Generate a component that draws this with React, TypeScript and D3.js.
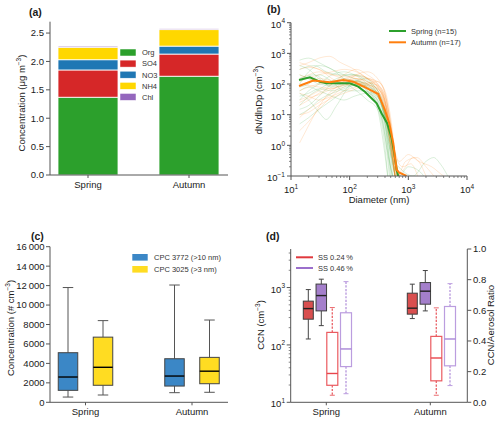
import React from 'react';
import * as d3 from 'd3';

const FONT = '"Liberation Sans", Arial, Helvetica, sans-serif';
const AX = '#555555';
const TXT = '#1a1a1a';
const FS = 9.5;
const LFS = 7.5;

// ---------- Panel (a) data ----------
const seasons = ['Spring', 'Autumn'];
const species = ['Org', 'SO4', 'NO3', 'NH4', 'Chl'];
const speciesColors = ['#2ca02c', '#d62728', '#1f77b4', '#ffd700', '#9467bd'];
const springComp = [1.37, 0.48, 0.18, 0.22, 0.02];
const autumnComp = [1.74, 0.39, 0.14, 0.29, 0.02];
const concTicksA = [0, 0.5, 1.0, 1.5, 2.0, 2.5];

// ---------- Panel (b) data ----------
const springMean: [number, number][] = [[13.7, 135], [21, 166], [31, 119], [40.5, 106], [101, 106], [140, 82], [182, 56], [289, 23.5], [351, 11], [437, 5.2], [519, 1.7], [575, 0.55], [632, 0.16], [680, 0.09]];
const autumnMean: [number, number][] = [[13.7, 86], [24, 129], [46, 114], [78, 135], [115, 119], [195, 73], [307, 47], [399, 14], [473, 5.3], [553, 1.17], [631, 0.16], [692, 0.13], [933, 0.1]];

const springSamples: [number, number][][] = [
  [[14, 600], [20, 700], [30, 500], [50, 300], [80, 200], [120, 150], [200, 80], [300, 30], [400, 5], [500, 0.5], [600, 0.08]],
  [[14, 300], [25, 400], [40, 250], [70, 200], [120, 200], [200, 120], [300, 60], [400, 15], [500, 1], [600, 0.08]],
  [[14, 50], [20, 30], [30, 12], [40, 7], [60, 20], [100, 80], [150, 100], [250, 40], [350, 8], [450, 0.5], [550, 0.08]],
  [[14, 150], [25, 200], [40, 120], [70, 100], [120, 130], [200, 90], [300, 40], [400, 6], [480, 0.3], [560, 0.08]],
  [[14, 20], [20, 40], [35, 80], [60, 150], [100, 200], [160, 180], [250, 100], [350, 30], [450, 2], [550, 0.08]],
  [[14, 80], [20, 100], [30, 200], [50, 120], [80, 60], [150, 60], [250, 50], [350, 20], [450, 3], [550, 0.2], [650, 0.08]],
  [[14, 10], [20, 15], [30, 30], [50, 50], [80, 70], [130, 100], [200, 70], [300, 25], [400, 3], [500, 0.08]],
  [[14, 400], [20, 300], [30, 150], [50, 80], [80, 90], [130, 120], [200, 100], [300, 50], [450, 5], [600, 0.3], [800, 0.15], [1200, 0.1], [2000, 0.3], [2700, 0.4], [3500, 0.25], [5000, 0.08]],
  [[14, 30], [20, 60], [30, 100], [50, 200], [80, 250], [120, 200], [200, 100], [300, 40], [400, 10], [500, 1], [600, 0.08]],
  [[14, 5], [20, 8], [30, 15], [50, 30], [80, 60], [120, 120], [180, 150], [250, 80], [350, 20], [450, 1], [520, 0.08]],
  [[14, 200], [20, 150], [30, 100], [50, 90], [80, 100], [130, 60], [200, 30], [300, 15], [380, 2], [450, 0.08]],
  [[14, 60], [20, 80], [30, 60], [50, 40], [80, 30], [120, 40], [200, 50], [300, 30], [400, 8], [500, 0.6], [700, 0.08]],
  [[14, 100], [20, 250], [30, 400], [50, 300], [80, 150], [130, 100], [200, 60], [300, 20], [400, 2], [480, 0.08]],
  [[14, 15], [20, 20], [30, 40], [50, 100], [80, 150], [120, 120], [200, 80], [300, 50], [400, 10], [550, 0.5], [700, 0.1], [1000, 0.2], [1500, 0.15], [2000, 0.08]],
  [[14, 40], [20, 50], [30, 70], [50, 60], [80, 80], [130, 100], [200, 60], [300, 15], [380, 1], [450, 0.08]],
];

const autumnSamples: [number, number][][] = [
  [[14, 1.2], [18, 3], [25, 10], [40, 40], [70, 100], [120, 180], [200, 150], [300, 90], [400, 30], [500, 3], [600, 0.3], [700, 0.08]],
  [[14, 400], [20, 500], [30, 700], [45, 800], [70, 500], [120, 300], [200, 150], [300, 80], [400, 20], [500, 2], [650, 0.08]],
  [[14, 60], [20, 80], [30, 100], [50, 120], [80, 150], [130, 200], [200, 160], [300, 100], [400, 40], [500, 5], [600, 0.4], [700, 0.1]],
  [[14, 20], [20, 30], [30, 50], [50, 80], [80, 120], [130, 150], [200, 120], [300, 80], [400, 30], [500, 3], [650, 0.1], [900, 0.2], [1200, 0.4], [1500, 0.3], [2000, 0.1]],
  [[14, 150], [20, 200], [30, 250], [50, 200], [80, 180], [130, 150], [200, 100], [300, 60], [400, 20], [500, 1], [600, 0.08]],
  [[14, 8], [20, 15], [30, 25], [50, 50], [80, 100], [130, 200], [200, 250], [300, 150], [400, 50], [500, 5], [600, 0.3], [800, 0.08]],
  [[14, 100], [20, 90], [30, 80], [50, 70], [80, 100], [130, 120], [200, 100], [300, 70], [400, 25], [500, 2], [600, 0.1]],
  [[14, 300], [20, 350], [30, 300], [50, 150], [80, 100], [130, 90], [200, 70], [300, 40], [400, 10], [500, 0.8], [600, 0.08]],
  [[14, 30], [20, 40], [30, 60], [50, 100], [80, 200], [130, 300], [200, 200], [300, 100], [400, 30], [500, 3], [700, 0.3], [1000, 0.5], [1500, 0.3], [2500, 0.2], [4000, 0.1], [5000, 0.08]],
  [[14, 50], [20, 40], [30, 30], [50, 40], [80, 60], [130, 80], [200, 90], [300, 70], [400, 25], [500, 2], [600, 0.08]],
  [[14, 200], [20, 150], [30, 120], [50, 100], [80, 120], [130, 150], [200, 120], [300, 60], [400, 15], [500, 1], [600, 0.08]],
  [[14, 10], [20, 12], [30, 20], [50, 35], [80, 50], [130, 70], [200, 100], [300, 120], [400, 50], [500, 5], [600, 0.5], [800, 0.2], [1100, 0.25], [1500, 0.08]],
  [[14, 500], [20, 400], [30, 300], [50, 200], [80, 150], [130, 120], [200, 90], [300, 50], [400, 15], [500, 1.5], [600, 0.08]],
  [[14, 3], [20, 6], [30, 15], [50, 40], [80, 80], [130, 120], [200, 150], [300, 120], [400, 60], [500, 8], [600, 0.5], [700, 0.08]],
  [[14, 80], [20, 120], [30, 150], [50, 130], [80, 110], [130, 100], [200, 110], [300, 90], [400, 40], [500, 4], [650, 0.1], [900, 0.3], [1400, 0.4], [2000, 0.2], [3000, 0.08]],
  [[14, 25], [20, 35], [30, 45], [50, 70], [80, 90], [130, 110], [200, 80], [300, 40], [400, 12], [500, 1], [600, 0.08]],
  [[14, 120], [20, 160], [30, 200], [50, 250], [80, 300], [130, 250], [200, 150], [300, 80], [400, 25], [500, 2], [600, 0.1]],
];
const decadeExpB = [1, 2, 3, 4];
const decadeExpBy = [-1, 0, 1, 2, 3, 4];

// ---------- Panel (c) data ----------  [whislo, q1, med, q3, whishi]
const cpc3772 = [[540, 1230, 2600, 5100, 11800], [990, 1670, 2700, 4480, 12060]];
const cpc3025 = [[750, 1750, 3600, 6700, 8400], [1030, 1910, 3200, 4620, 8460]];
const concTicksC = [0, 2000, 4000, 6000, 8000, 10000, 12000, 14000, 16000];

// ---------- Panel (d) data ----------
const ccn024 = [[127, 281, 430, 580, 922], [288, 344, 437, 798, 1146]];
const ccn046 = [[217, 392, 725, 1150, 1400], [392, 513, 865, 1222, 1980]];
const ratio024 = [[0.046, 0.111, 0.188, 0.456, 0.618], [0.046, 0.14, 0.289, 0.43, 0.616]];
const ratio046 = [[0.056, 0.233, 0.348, 0.584, 0.787], [0.109, 0.238, 0.413, 0.625, 0.774]];
const ratioTicks = [0, 0.2, 0.4, 0.6, 0.8, 1.0];
const ccnExp = [1, 2, 3];

function Pow({ x, y, exp, anchor }: { x: number; y: number; exp: number; anchor: string }) {
  return (
    <text x={x} y={y} textAnchor={anchor} fontSize={FS} fill={TXT} fontFamily={FONT}>
      10<tspan dy={-4.5} fontSize={6.5}>{exp < 0 ? '\u2212' + Math.abs(exp) : exp}</tspan>
    </text>
  );
}

function minorTicks(lo: number, hi: number) {
  const out: number[] = [];
  for (let e = lo; e < hi; e++) {
    for (let m = 2; m <= 9; m++) out.push(m * Math.pow(10, e));
  }
  return out;
}

function BoxPlot({ cx, w, vals, y, fill, stroke, median, whisker, dashed, capW, sw = 1 }: any) {
  const [lo, q1, med, q3, hi] = vals;
  return (
    <g>
      <line x1={cx} x2={cx} y1={y(q3)} y2={y(hi)} stroke={whisker} strokeWidth={dashed ? 1.4 : 1} strokeDasharray={dashed ? '2.2,1.4' : undefined} />
      <line x1={cx} x2={cx} y1={y(q1)} y2={y(lo)} stroke={whisker} strokeWidth={dashed ? 1.4 : 1} strokeDasharray={dashed ? '2.2,1.4' : undefined} />
      <line x1={cx - capW / 2} x2={cx + capW / 2} y1={y(hi)} y2={y(hi)} stroke={whisker} strokeWidth={1} />
      <line x1={cx - capW / 2} x2={cx + capW / 2} y1={y(lo)} y2={y(lo)} stroke={whisker} strokeWidth={1} />
      <rect x={cx - w / 2} y={y(q3)} width={w} height={y(q1) - y(q3)} fill={fill} stroke={stroke} strokeWidth={sw} />
      <line x1={cx - w / 2} x2={cx + w / 2} y1={y(med)} y2={y(med)} stroke={median} strokeWidth={1.4} />
    </g>
  );
}

export default function App() {
  // ----- Panel a -----
  const xA = d3.scaleBand().domain(seasons).range([37.5, 239.5]);
  const yA = d3.scaleLinear().domain([0, 2.7]).range([175, 21.7]);
  const rowsA = seasons.map((s, i) => {
    const comp = i === 0 ? springComp : autumnComp;
    const r: any = { season: s };
    species.forEach((k, j) => (r[k] = comp[j]));
    return r;
  });
  const stackA = d3.stack().keys(species)(rowsA);
  const barW = 60;

  // ----- Panel b -----
  const xB = d3.scaleLog().domain([10, 1e4]).range([291, 467]);
  const yB = d3.scaleLog().domain([0.1, 1e4]).range([176, 22.7]);
  const thinLine = d3.line<[number, number]>().x((d) => xB(d[0])).y((d) => yB(d[1])).curve(d3.curveMonotoneX);
  const meanLine = d3.line<[number, number]>().x((d) => xB(d[0])).y((d) => yB(d[1]));

  // ----- Panel c -----
  const xC = d3.scalePoint().domain(seasons).range([85.5, 192]);
  const yC = d3.scaleLinear().domain([0, 16000]).range([402.3, 246.7]);
  const fmtC = (v: number) => (v >= 10000 ? d3.format(',')(v).replace(',', '\u2009') : String(v));

  // ----- Panel d -----
  const xD = d3.scalePoint().domain(seasons).range([326.3, 430.3]);
  const yD = d3.scaleLog().domain([10, 4700]).range([402.3, 249]);
  const yR = d3.scaleLinear().domain([0, 1]).range([402.3, 249]);

  return (
    <svg width={500} height={422} viewBox="0 0 500 422" style={{ display: 'block', position: 'absolute', left: 0, top: 0, background: '#fff' }} fontFamily={FONT}>
      <rect width={500} height={422} fill="#fff" />

      {/* ================= Panel (a) ================= */}
      <text x={29} y={16} fontSize={10.5} fontWeight="bold" fill={TXT}>(a)</text>
      {stackA.map((layer, li) =>
        layer.map((d, i) => (
          <rect key={`a${li}-${i}`} x={(xA(seasons[i]) as number) + xA.bandwidth() / 2 - barW / 2} y={yA(d[1])} width={barW} height={yA(d[0]) - yA(d[1])} fill={speciesColors[li]} stroke="#fff" strokeWidth={0.8} />
        ))
      )}
      <line x1={50} x2={50} y1={21.7} y2={175} stroke={AX} strokeWidth={1} />
      <line x1={50} x2={228} y1={175} y2={175} stroke={AX} strokeWidth={1} />
      {concTicksA.map((t) => (
        <g key={`ta${t}`}>
          <line x1={46} x2={50} y1={yA(t)} y2={yA(t)} stroke={AX} />
          <text x={44} y={yA(t) + 3.4} textAnchor="end" fontSize={FS} fill={TXT}>{t.toFixed(1)}</text>
        </g>
      ))}
      {seasons.map((s) => (
        <g key={`xa${s}`}>
          <line x1={(xA(s) as number) + xA.bandwidth() / 2} x2={(xA(s) as number) + xA.bandwidth() / 2} y1={175} y2={178} stroke={AX} />
          <text x={(xA(s) as number) + xA.bandwidth() / 2} y={188} textAnchor="middle" fontSize={FS} fill={TXT}>{s}</text>
        </g>
      ))}
      <text transform="translate(25,103) rotate(-90)" textAnchor="middle" fontSize={FS} fill={TXT}>
        Concentration (μg m<tspan dy={-4} fontSize={6.5}>−3</tspan><tspan dy={4}>)</tspan>
      </text>
      {species.map((k, i) => (
        <g key={`la${k}`}>
          <rect x={120} y={49 + i * 11.1} width={16} height={7} fill={speciesColors[i]} stroke="#fff" strokeWidth={0.5} />
          <text x={142} y={55.3 + i * 11.1} fontSize={LFS} fill="#333">{k}</text>
        </g>
      ))}

      {/* ================= Panel (b) ================= */}
      <text x={267} y={13} fontSize={10.5} fontWeight="bold" fill={TXT}>(b)</text>
      <defs>
        <clipPath id="clipB">
          <rect x={291} y={22.7} width={176} height={153.3} />
        </clipPath>
      </defs>
      <g clipPath="url(#clipB)">
        {springSamples.map((s, i) => (
          <path key={`gs${i}`} d={thinLine(s) as string} fill="none" stroke="#2ca02c" strokeOpacity={0.22} strokeWidth={0.8} />
        ))}
        {autumnSamples.map((s, i) => (
          <path key={`os${i}`} d={thinLine(s) as string} fill="none" stroke="#ff7f0e" strokeOpacity={0.22} strokeWidth={0.8} />
        ))}
        <path d={meanLine(springMean) as string} fill="none" stroke="#2ca02c" strokeWidth={2} />
        <path d={meanLine(autumnMean) as string} fill="none" stroke="#ff7f0e" strokeWidth={2} />
      </g>
      <line x1={291} x2={291} y1={22.7} y2={176} stroke={AX} />
      <line x1={291} x2={467} y1={176} y2={176} stroke={AX} />
      {decadeExpBy.map((e) => (
        <g key={`yb${e}`}>
          <line x1={287} x2={291} y1={yB(Math.pow(10, e))} y2={yB(Math.pow(10, e))} stroke={AX} />
          <Pow x={285} y={yB(Math.pow(10, e)) + 5} exp={e} anchor="end" />
        </g>
      ))}
      {minorTicks(-1, 4).map((v, i) => (
        <line key={`ybm${i}`} x1={289} x2={291} y1={yB(v)} y2={yB(v)} stroke={AX} strokeWidth={0.7} />
      ))}
      {decadeExpB.map((e) => (
        <g key={`xb${e}`}>
          <line x1={xB(Math.pow(10, e))} x2={xB(Math.pow(10, e))} y1={176} y2={180} stroke={AX} />
          <Pow x={xB(Math.pow(10, e))} y={193} exp={e} anchor="middle" />
        </g>
      ))}
      {minorTicks(1, 4).map((v, i) => (
        <line key={`xbm${i}`} x1={xB(v)} x2={xB(v)} y1={176} y2={178} stroke={AX} strokeWidth={0.7} />
      ))}
      <text x={379} y={203} textAnchor="middle" fontSize={FS} fill={TXT}>Diameter (nm)</text>
      <text transform="translate(262,100) rotate(-90)" textAnchor="middle" fontSize={FS} fill={TXT}>
        dN/dlnDp (cm<tspan dy={-4} fontSize={6.5}>−3</tspan><tspan dy={4}>)</tspan>
      </text>
      <line x1={389} x2={406} y1={31} y2={31} stroke="#2ca02c" strokeWidth={2} />
      <text x={411} y={33.7} fontSize={LFS} fill="#333">Spring (n=15)</text>
      <line x1={389} x2={406} y1={42.3} y2={42.3} stroke="#ff7f0e" strokeWidth={2} />
      <text x={411} y={45} fontSize={LFS} fill="#333">Autumn (n=17)</text>

      {/* ================= Panel (c) ================= */}
      <text x={31} y={240} fontSize={10.5} fontWeight="bold" fill={TXT}>(c)</text>
      {seasons.map((s, i) => (
        <g key={`bc${s}`}>
          <BoxPlot cx={(xC(s) as number) - 17.5} w={19.5} vals={cpc3772[i]} y={yC} fill="#3b87c6" stroke="#444" median="#000" whisker="#555" capW={10.5} />
          <BoxPlot cx={(xC(s) as number) + 17.5} w={19.5} vals={cpc3025[i]} y={yC} fill="#ffdc22" stroke="#444" median="#000" whisker="#555" capW={10.5} />
        </g>
      ))}
      <line x1={50} x2={50} y1={246.7} y2={402.3} stroke={AX} />
      <line x1={50} x2={228} y1={402.3} y2={402.3} stroke={AX} />
      {concTicksC.map((t) => (
        <g key={`tc${t}`}>
          <line x1={46} x2={50} y1={yC(t)} y2={yC(t)} stroke={AX} />
          <text x={44.5} y={yC(t) + 3.4} textAnchor="end" fontSize={FS} fill={TXT}>{fmtC(t)}</text>
        </g>
      ))}
      {seasons.map((s) => (
        <g key={`xc${s}`}>
          <line x1={xC(s) as number} x2={xC(s) as number} y1={402.3} y2={405.3} stroke={AX} />
          <text x={xC(s) as number} y={415} textAnchor="middle" fontSize={FS} fill={TXT}>{s}</text>
        </g>
      ))}
      <text transform="translate(14,328) rotate(-90)" textAnchor="middle" fontSize={FS} fill={TXT}>
        Concentration (# cm<tspan dy={-4} fontSize={6.5}>−3</tspan><tspan dy={4}>)</tspan>
      </text>
      <rect x={132.3} y={254} width={15.4} height={6.6} fill="#3b87c6" />
      <text x={154} y={260} fontSize={LFS} fill="#333">CPC 3772 (&gt;10 nm)</text>
      <rect x={132.3} y={266} width={15.4} height={6.6} fill="#ffdc22" />
      <text x={154} y={272} fontSize={LFS} fill="#333">CPC 3025 (&gt;3 nm)</text>

      {/* ================= Panel (d) ================= */}
      <text x={266} y={240} fontSize={10.5} fontWeight="bold" fill={TXT}>(d)</text>
      {seasons.map((s, i) => {
        const c = xD(s) as number;
        return (
          <g key={`bd${s}`}>
            <BoxPlot cx={c - 18} w={10} vals={ccn024[i]} y={yD} fill="#d94f4f" stroke="#3d3d3d" median="#222" whisker="#444" capW={5} />
            <BoxPlot cx={c - 5} w={10.5} vals={ccn046[i]} y={yD} fill="#a47fcb" stroke="#3d3d3d" median="#222" whisker="#444" capW={5} />
            <BoxPlot cx={c + 6} w={11} vals={ratio024[i]} y={yR} fill="none" stroke="#ea5a5f" median="#e8454c" whisker="#ea6a6f" dashed capW={5} sw={1.2} />
            <BoxPlot cx={c + 19.7} w={11} vals={ratio046[i]} y={yR} fill="none" stroke="#bb9ddf" median="#a886d6" whisker="#bb9ddf" dashed capW={5} sw={1.2} />
          </g>
        );
      })}
      <line x1={290.7} x2={290.7} y1={249} y2={402.3} stroke={AX} />
      <line x1={467.3} x2={467.3} y1={249} y2={402.3} stroke={AX} />
      <line x1={290.7} x2={467.3} y1={402.3} y2={402.3} stroke={AX} />
      {ccnExp.map((e) => (
        <g key={`yd${e}`}>
          <line x1={286.7} x2={290.7} y1={yD(Math.pow(10, e))} y2={yD(Math.pow(10, e))} stroke={AX} />
          <Pow x={285} y={yD(Math.pow(10, e)) + 5} exp={e} anchor="end" />
        </g>
      ))}
      {minorTicks(1, 4).filter((v) => v <= 4700).map((v, i) => (
        <line key={`ydm${i}`} x1={288.7} x2={290.7} y1={yD(v)} y2={yD(v)} stroke={AX} strokeWidth={0.7} />
      ))}
      {ratioTicks.map((t) => (
        <g key={`tr${t}`}>
          <line x1={467.3} x2={471.3} y1={yR(t)} y2={yR(t)} stroke={AX} />
          <text x={473} y={yR(t) + 3.4} fontSize={FS} fill={TXT}>{t.toFixed(1)}</text>
        </g>
      ))}
      {seasons.map((s) => (
        <g key={`xd${s}`}>
          <line x1={xD(s) as number} x2={xD(s) as number} y1={402.3} y2={405.3} stroke={AX} />
          <text x={xD(s) as number} y={415} textAnchor="middle" fontSize={FS} fill={TXT}>{s}</text>
        </g>
      ))}
      <text transform="translate(264,325) rotate(-90)" textAnchor="middle" fontSize={FS} fill={TXT}>
        CCN (cm<tspan dy={-4} fontSize={6.5}>−3</tspan><tspan dy={4}>)</tspan>
      </text>
      <text transform="translate(494,325) rotate(-90)" textAnchor="middle" fontSize={FS} fill={TXT}>CCN/Aerosol Ratio</text>
      <line x1={296} x2={313} y1={257.3} y2={257.3} stroke="#e0393e" strokeWidth={2} />
      <text x={318} y={260} fontSize={LFS} fill="#333">SS 0.24{'\u2009'}%</text>
      <line x1={296} x2={313} y1={268} y2={268} stroke="#9b6fcc" strokeWidth={2} />
      <text x={318} y={270.7} fontSize={LFS} fill="#333">SS 0.46{'\u2009'}%</text>
    </svg>
  );
}
